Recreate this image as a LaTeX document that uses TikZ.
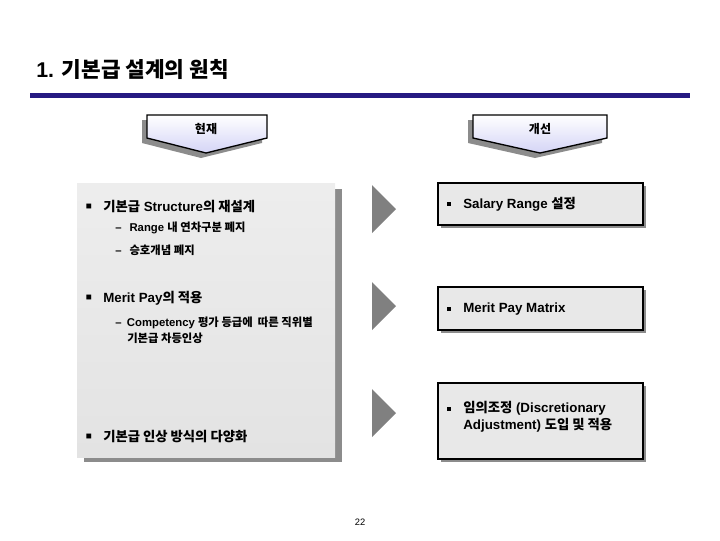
\documentclass[tikz,border=0pt]{standalone}
\usepackage{fontspec}
\setmainfont{Liberation Sans}
\newfontfamily\kr{Noto Sans CJK KR}
\definecolor{rulenavy}{RGB}{38,26,130}
\definecolor{hdrlav}{RGB}{212,212,246}
\definecolor{shadegray}{RGB}{140,140,140}
\definecolor{boxgray}{RGB}{232,232,232}
\definecolor{arrowgray}{RGB}{128,128,128}
\begin{document}
\begin{tikzpicture}[x=0.75pt,y=-0.75pt,
  hdrbox/.style={top color=white, bottom color=hdrlav, draw=black, line width=1pt},
  shadow/.style={fill=shadegray, draw=none},
  rbox/.style={fill=boxgray, draw=black, line width=1.2pt},
  pointer/.style={fill=arrowgray, draw=none},
  mainitem/.style={anchor=west, inner sep=0pt, font=\bfseries\fontsize{10}{12}\selectfont},
  subitem/.style={anchor=west, inner sep=0pt, font=\bfseries\fontsize{8.5}{12}\selectfont, align=left},
  boxitem/.style={anchor=west, inner sep=0pt, font=\bfseries\fontsize{10}{13}\selectfont, align=left},
  sq/.style={anchor=center, inner sep=0pt, font=\fontsize{7.5}{7.5}\selectfont},
  dot/.style={fill=black, draw=none, minimum size=3pt, inner sep=0pt}]
\useasboundingbox (0,0) rectangle (720,540);

% title and rule
\node[anchor=west, inner sep=0pt, font=\bfseries\fontsize{16}{18}\selectfont] (title) at (36,70) {1. {\kr 기본급 설계의 원칙}};
\fill[rulenavy] (30,93) rectangle (690,98);

% header boxes
\fill[shadow] (142,120) -- (262,120) -- (262,143) -- (201,158) -- (142,143) -- cycle;
\path[hdrbox] (147,115) -- (267,115) -- (267,138) -- (206,153) -- (147,138) -- cycle;
\node[font=\bfseries\fontsize{9}{10}\selectfont] (now) at (206,129) {\kr 현재};
\fill[shadow] (468,120) -- (602,120) -- (602,143) -- (535,158) -- (468,143) -- cycle;
\path[hdrbox] (473,115) -- (607,115) -- (607,138) -- (540,153) -- (473,138) -- cycle;
\node[font=\bfseries\fontsize{9}{10}\selectfont] (next) at (540,129) {\kr 개선};

% left panel
\fill[shadow] (84,189) rectangle (342,462);
\shade[top color=gray!14, middle color=white, bottom color=gray!22] (77,183) rectangle (335,457);

\node[sq] (b1) at (89,207) {■};
\node[mainitem] (s1) at (103,207) {{\kr 기본급} Structure{\kr 의 재설계}};
\node[subitem] (s1a) at (115,228) {–\hspace{6pt}Range {\kr 내 연차구분 폐지}};
\node[subitem] (s1b) at (115,250) {–\hspace{6pt}{\kr 승호개념 폐지}};

\node[sq] (b2) at (89,298) {■};
\node[mainitem] (s2) at (103,298) {Merit Pay{\kr 의 적용}};
\node[subitem] (s2a) at (115,330) {–\hspace{4pt}Competency {\kr 평가 등급에 \ 따른 직위별}\\\hspace{9pt}{\kr 기본급 차등인상}};

\node[sq] (b3) at (89,437) {■};
\node[mainitem] (s3) at (103,437) {{\kr 기본급 인상 방식의 다양화}};

% pointers
\fill[pointer] (372,185) -- (396,209) -- (372,233) -- cycle;
\fill[pointer] (372,282) -- (396,306) -- (372,330) -- cycle;
\fill[pointer] (372,389) -- (396,413) -- (372,437) -- cycle;

% right boxes
\fill[shadow] (441,186) rectangle (646,228);
\path[rbox] (438,183) rectangle (643,225);
\node[dot] (r1b) at (449,204) {};
\node[boxitem] (r1) at (463,204) {Salary Range {\kr 설정}};

\fill[shadow] (441,290) rectangle (646,333);
\path[rbox] (438,287) rectangle (643,330);
\node[dot] (r2b) at (449,309) {};
\node[boxitem] (r2) at (463,309) {Merit Pay Matrix};

\fill[shadow] (441,386) rectangle (646,462);
\path[rbox] (438,383) rectangle (643,459);
\node[dot] (r3b) at (449,409) {};
\node[boxitem, anchor=north west] (r3) at (463,401) {{\kr 임의조정} (Discretionary\\Adjustment) {\kr 도입 및 적용}};

% page number
\node[font=\fontsize{7}{8}\selectfont] (page) at (360,522) {22};
\end{tikzpicture}
\end{document}
